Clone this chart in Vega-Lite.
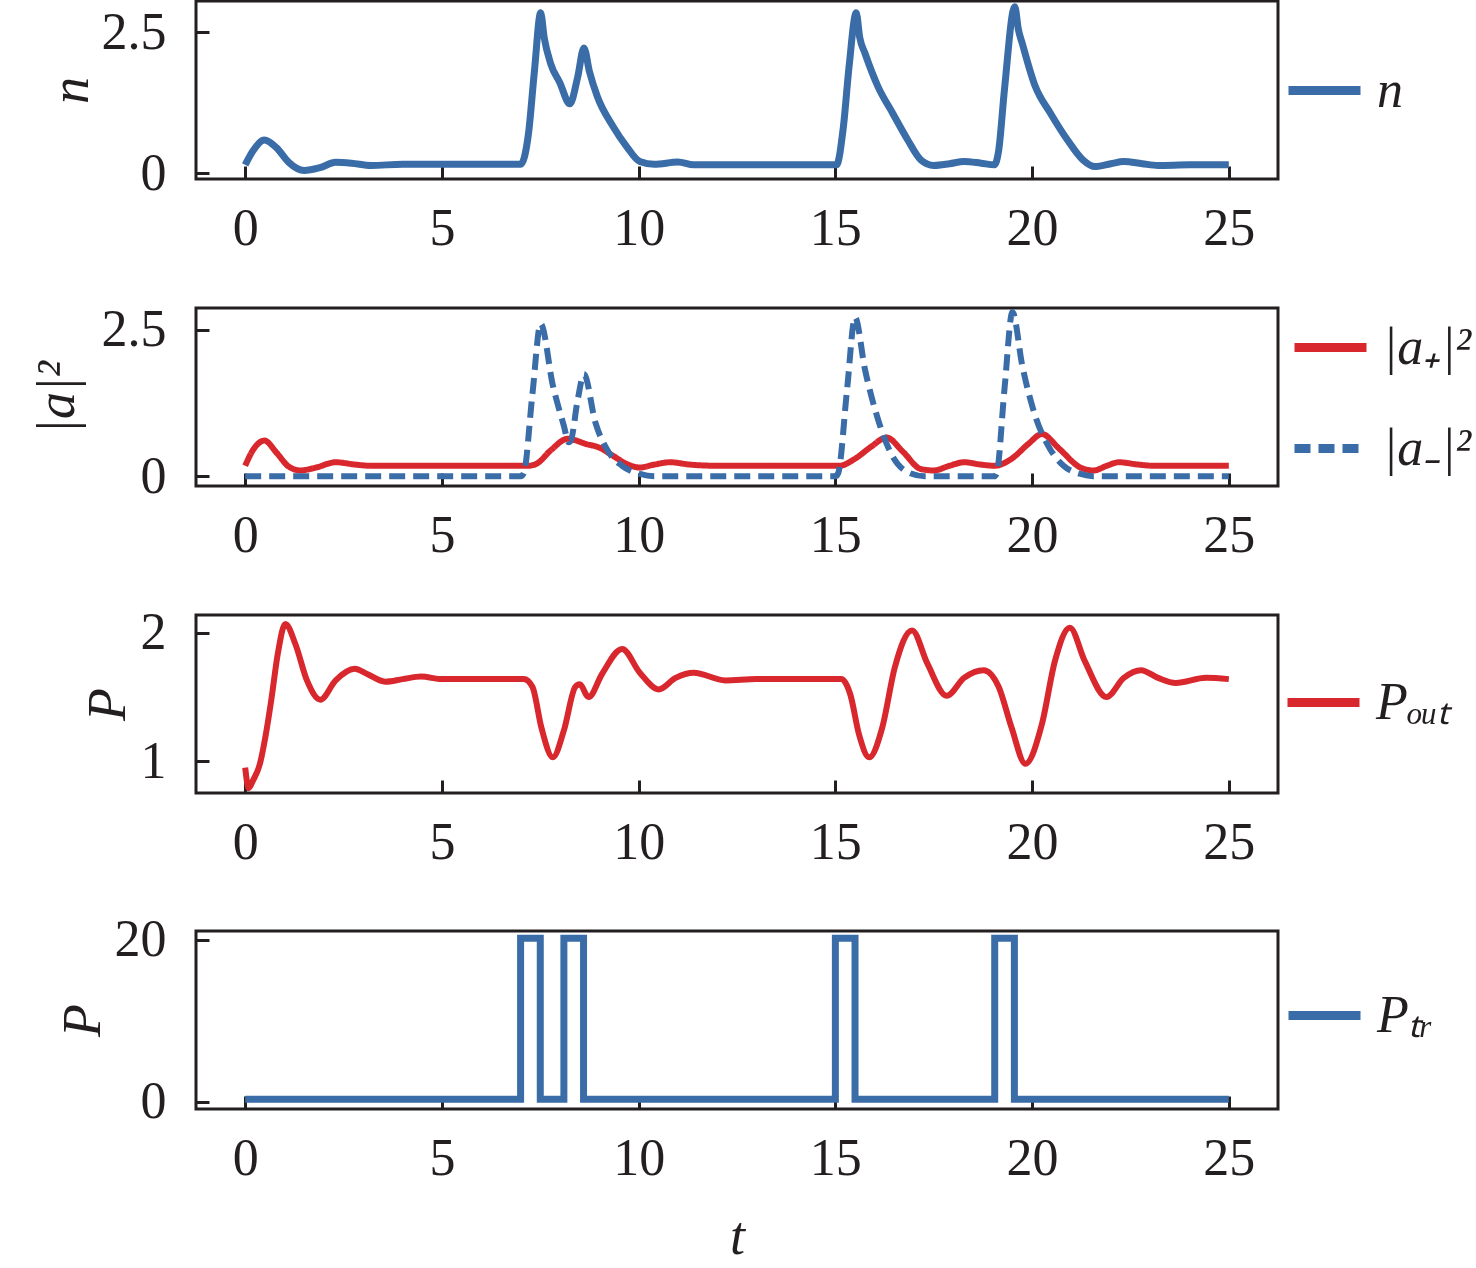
{
  "$schema": "https://vega.github.io/schema/vega-lite/v6.json",
  "background": "white",
  "padding": {"left": 28, "top": -9, "right": 0, "bottom": 0},
  "spacing": 42,
  "datasets": {
    "nData": [
      {"t": 0, "v": 0.15, "s": "n"}, {"t": 0.2, "v": 0.4, "s": "n"}, {"t": 0.49, "v": 0.59, "s": "n"},
      {"t": 0.8, "v": 0.45, "s": "n"}, {"t": 1.1, "v": 0.2, "s": "n"}, {"t": 1.5, "v": 0.05, "s": "n"},
      {"t": 1.9, "v": 0.1, "s": "n"}, {"t": 2.3, "v": 0.195, "s": "n"}, {"t": 2.7, "v": 0.18, "s": "n"},
      {"t": 3.2, "v": 0.14, "s": "n"}, {"t": 4.0, "v": 0.16, "s": "n"}, {"t": 5.0, "v": 0.16, "s": "n"},
      {"t": 6.0, "v": 0.16, "s": "n"}, {"t": 7.0, "v": 0.16, "s": "n"}, {"t": 7.2, "v": 0.7, "s": "n"},
      {"t": 7.35, "v": 1.8, "s": "n"}, {"t": 7.51, "v": 2.84, "s": "n"}, {"t": 7.6, "v": 2.4, "s": "n"},
      {"t": 7.76, "v": 1.95, "s": "n"}, {"t": 8.0, "v": 1.6, "s": "n"}, {"t": 8.25, "v": 1.23, "s": "n"},
      {"t": 8.45, "v": 1.7, "s": "n"}, {"t": 8.61, "v": 2.22, "s": "n"}, {"t": 8.75, "v": 1.8, "s": "n"},
      {"t": 8.95, "v": 1.36, "s": "n"}, {"t": 9.35, "v": 0.83, "s": "n"}, {"t": 9.7, "v": 0.47, "s": "n"},
      {"t": 10.03, "v": 0.21, "s": "n"}, {"t": 10.4, "v": 0.16, "s": "n"}, {"t": 11.0, "v": 0.2, "s": "n"},
      {"t": 11.4, "v": 0.15, "s": "n"}, {"t": 12, "v": 0.15, "s": "n"}, {"t": 13, "v": 0.15, "s": "n"},
      {"t": 14, "v": 0.15, "s": "n"}, {"t": 15.03, "v": 0.15, "s": "n"}, {"t": 15.2, "v": 0.8, "s": "n"},
      {"t": 15.35, "v": 1.9, "s": "n"}, {"t": 15.53, "v": 2.84, "s": "n"}, {"t": 15.62, "v": 2.4, "s": "n"},
      {"t": 15.75, "v": 2.13, "s": "n"}, {"t": 16.08, "v": 1.54, "s": "n"}, {"t": 16.46, "v": 1.06, "s": "n"},
      {"t": 16.84, "v": 0.59, "s": "n"}, {"t": 17.17, "v": 0.24, "s": "n"}, {"t": 17.5, "v": 0.14, "s": "n"},
      {"t": 17.9, "v": 0.17, "s": "n"}, {"t": 18.27, "v": 0.21, "s": "n"}, {"t": 18.7, "v": 0.18, "s": "n"},
      {"t": 19.04, "v": 0.15, "s": "n"}, {"t": 19.15, "v": 0.4, "s": "n"}, {"t": 19.3, "v": 1.5, "s": "n"},
      {"t": 19.56, "v": 2.95, "s": "n"}, {"t": 19.65, "v": 2.55, "s": "n"}, {"t": 19.75, "v": 2.3, "s": "n"},
      {"t": 20.08, "v": 1.54, "s": "n"}, {"t": 20.47, "v": 1.06, "s": "n"}, {"t": 20.9, "v": 0.59, "s": "n"},
      {"t": 21.29, "v": 0.24, "s": "n"}, {"t": 21.6, "v": 0.12, "s": "n"}, {"t": 22.0, "v": 0.17, "s": "n"},
      {"t": 22.33, "v": 0.21, "s": "n"}, {"t": 22.8, "v": 0.17, "s": "n"}, {"t": 23.2, "v": 0.14, "s": "n"},
      {"t": 24, "v": 0.15, "s": "n"}, {"t": 25, "v": 0.15, "s": "n"}
    ],
    "aData": [
      {"t": 0, "v": 0.18, "s": "|a₊|²"}, {"t": 0.2, "v": 0.45, "s": "|a₊|²"}, {"t": 0.49, "v": 0.61, "s": "|a₊|²"},
      {"t": 0.8, "v": 0.4, "s": "|a₊|²"}, {"t": 1.1, "v": 0.17, "s": "|a₊|²"}, {"t": 1.4, "v": 0.1, "s": "|a₊|²"},
      {"t": 1.8, "v": 0.15, "s": "|a₊|²"}, {"t": 2.3, "v": 0.24, "s": "|a₊|²"}, {"t": 2.8, "v": 0.2, "s": "|a₊|²"},
      {"t": 3.2, "v": 0.18, "s": "|a₊|²"}, {"t": 4, "v": 0.18, "s": "|a₊|²"}, {"t": 5, "v": 0.18, "s": "|a₊|²"},
      {"t": 6, "v": 0.18, "s": "|a₊|²"}, {"t": 7.2, "v": 0.18, "s": "|a₊|²"}, {"t": 7.42, "v": 0.22, "s": "|a₊|²"},
      {"t": 7.76, "v": 0.44, "s": "|a₊|²"}, {"t": 8.2, "v": 0.64, "s": "|a₊|²"}, {"t": 8.67, "v": 0.55, "s": "|a₊|²"},
      {"t": 9.0, "v": 0.49, "s": "|a₊|²"}, {"t": 9.35, "v": 0.35, "s": "|a₊|²"}, {"t": 9.7, "v": 0.21, "s": "|a₊|²"},
      {"t": 10.03, "v": 0.15, "s": "|a₊|²"}, {"t": 10.4, "v": 0.2, "s": "|a₊|²"}, {"t": 10.8, "v": 0.24, "s": "|a₊|²"},
      {"t": 11.3, "v": 0.2, "s": "|a₊|²"}, {"t": 12, "v": 0.18, "s": "|a₊|²"}, {"t": 13, "v": 0.18, "s": "|a₊|²"},
      {"t": 14, "v": 0.18, "s": "|a₊|²"}, {"t": 15.1, "v": 0.18, "s": "|a₊|²"}, {"t": 15.5, "v": 0.3, "s": "|a₊|²"},
      {"t": 15.9, "v": 0.5, "s": "|a₊|²"}, {"t": 16.3, "v": 0.66, "s": "|a₊|²"}, {"t": 16.73, "v": 0.41, "s": "|a₊|²"},
      {"t": 17.17, "v": 0.125, "s": "|a₊|²"}, {"t": 17.5, "v": 0.1, "s": "|a₊|²"}, {"t": 17.9, "v": 0.18, "s": "|a₊|²"},
      {"t": 18.27, "v": 0.24, "s": "|a₊|²"}, {"t": 18.7, "v": 0.2, "s": "|a₊|²"}, {"t": 19.04, "v": 0.18, "s": "|a₊|²"},
      {"t": 19.48, "v": 0.3, "s": "|a₊|²"}, {"t": 19.9, "v": 0.55, "s": "|a₊|²"}, {"t": 20.25, "v": 0.72, "s": "|a₊|²"},
      {"t": 20.69, "v": 0.47, "s": "|a₊|²"}, {"t": 21.23, "v": 0.15, "s": "|a₊|²"}, {"t": 21.56, "v": 0.1, "s": "|a₊|²"},
      {"t": 21.9, "v": 0.18, "s": "|a₊|²"}, {"t": 22.2, "v": 0.24, "s": "|a₊|²"}, {"t": 22.7, "v": 0.2, "s": "|a₊|²"},
      {"t": 23.1, "v": 0.18, "s": "|a₊|²"}, {"t": 24, "v": 0.18, "s": "|a₊|²"}, {"t": 25, "v": 0.18, "s": "|a₊|²"},
      {"t": 0, "v": 0, "s": "|a₋|²"}, {"t": 7.0, "v": 0, "s": "|a₋|²"}, {"t": 7.08, "v": 0.05, "s": "|a₋|²"},
      {"t": 7.3, "v": 1.4, "s": "|a₋|²"}, {"t": 7.51, "v": 2.6, "s": "|a₋|²"}, {"t": 7.82, "v": 1.55, "s": "|a₋|²"},
      {"t": 8.1, "v": 0.86, "s": "|a₋|²"}, {"t": 8.22, "v": 0.58, "s": "|a₋|²"}, {"t": 8.27, "v": 0.6, "s": "|a₋|²"},
      {"t": 8.45, "v": 1.3, "s": "|a₋|²"}, {"t": 8.61, "v": 1.74, "s": "|a₋|²"}, {"t": 8.9, "v": 0.92, "s": "|a₋|²"},
      {"t": 9.24, "v": 0.41, "s": "|a₋|²"}, {"t": 9.58, "v": 0.18, "s": "|a₋|²"}, {"t": 10.03, "v": 0.04, "s": "|a₋|²"},
      {"t": 10.4, "v": 0, "s": "|a₋|²"}, {"t": 15.0, "v": 0, "s": "|a₋|²"}, {"t": 15.07, "v": 0.05, "s": "|a₋|²"},
      {"t": 15.3, "v": 1.5, "s": "|a₋|²"}, {"t": 15.5, "v": 2.71, "s": "|a₋|²"}, {"t": 15.75, "v": 1.83, "s": "|a₋|²"},
      {"t": 16.08, "v": 0.98, "s": "|a₋|²"}, {"t": 16.4, "v": 0.41, "s": "|a₋|²"}, {"t": 16.84, "v": 0.07, "s": "|a₋|²"},
      {"t": 17.28, "v": 0, "s": "|a₋|²"}, {"t": 19.04, "v": 0, "s": "|a₋|²"}, {"t": 19.1, "v": 0.05, "s": "|a₋|²"},
      {"t": 19.3, "v": 1.5, "s": "|a₋|²"}, {"t": 19.5, "v": 2.8, "s": "|a₋|²"}, {"t": 19.75, "v": 1.89, "s": "|a₋|²"},
      {"t": 20.08, "v": 1.03, "s": "|a₋|²"}, {"t": 20.41, "v": 0.52, "s": "|a₋|²"}, {"t": 20.8, "v": 0.18, "s": "|a₋|²"},
      {"t": 21.23, "v": 0.04, "s": "|a₋|²"}, {"t": 21.56, "v": 0, "s": "|a₋|²"}, {"t": 25, "v": 0, "s": "|a₋|²"}
    ],
    "pOutData": [
      {"t": 0, "v": 0.95, "s": "Pₒᵤₜ"}, {"t": 0.09, "v": 0.79, "s": "Pₒᵤₜ"}, {"t": 0.2, "v": 0.85, "s": "Pₒᵤₜ"},
      {"t": 0.375, "v": 0.98, "s": "Pₒᵤₜ"}, {"t": 0.52, "v": 1.2, "s": "Pₒᵤₜ"}, {"t": 0.66, "v": 1.47, "s": "Pₒᵤₜ"},
      {"t": 0.83, "v": 1.84, "s": "Pₒᵤₜ"}, {"t": 1.02, "v": 2.07, "s": "Pₒᵤₜ"}, {"t": 1.28, "v": 1.91, "s": "Pₒᵤₜ"},
      {"t": 1.57, "v": 1.63, "s": "Pₒᵤₜ"}, {"t": 1.91, "v": 1.48, "s": "Pₒᵤₜ"}, {"t": 2.3, "v": 1.63, "s": "Pₒᵤₜ"},
      {"t": 2.78, "v": 1.72, "s": "Pₒᵤₜ"}, {"t": 3.1, "v": 1.68, "s": "Pₒᵤₜ"}, {"t": 3.56, "v": 1.62, "s": "Pₒᵤₜ"},
      {"t": 4.0, "v": 1.64, "s": "Pₒᵤₜ"}, {"t": 4.47, "v": 1.66, "s": "Pₒᵤₜ"}, {"t": 5.0, "v": 1.64, "s": "Pₒᵤₜ"},
      {"t": 6, "v": 1.64, "s": "Pₒᵤₜ"}, {"t": 7.08, "v": 1.64, "s": "Pₒᵤₜ"}, {"t": 7.3, "v": 1.58, "s": "Pₒᵤₜ"},
      {"t": 7.53, "v": 1.26, "s": "Pₒᵤₜ"}, {"t": 7.82, "v": 1.03, "s": "Pₒᵤₜ"}, {"t": 8.1, "v": 1.24, "s": "Pₒᵤₜ"},
      {"t": 8.39, "v": 1.58, "s": "Pₒᵤₜ"}, {"t": 8.5, "v": 1.6, "s": "Pₒᵤₜ"}, {"t": 8.73, "v": 1.5, "s": "Pₒᵤₜ"},
      {"t": 9.07, "v": 1.68, "s": "Pₒᵤₜ"}, {"t": 9.58, "v": 1.875, "s": "Pₒᵤₜ"}, {"t": 10.03, "v": 1.69, "s": "Pₒᵤₜ"},
      {"t": 10.51, "v": 1.56, "s": "Pₒᵤₜ"}, {"t": 10.94, "v": 1.65, "s": "Pₒᵤₜ"}, {"t": 11.4, "v": 1.69, "s": "Pₒᵤₜ"},
      {"t": 12.2, "v": 1.63, "s": "Pₒᵤₜ"}, {"t": 13, "v": 1.64, "s": "Pₒᵤₜ"}, {"t": 14, "v": 1.64, "s": "Pₒᵤₜ"},
      {"t": 15.15, "v": 1.64, "s": "Pₒᵤₜ"}, {"t": 15.38, "v": 1.52, "s": "Pₒᵤₜ"}, {"t": 15.6, "v": 1.21, "s": "Pₒᵤₜ"},
      {"t": 15.86, "v": 1.03, "s": "Pₒᵤₜ"}, {"t": 16.19, "v": 1.26, "s": "Pₒᵤₜ"}, {"t": 16.51, "v": 1.73, "s": "Pₒᵤₜ"},
      {"t": 16.95, "v": 2.02, "s": "Pₒᵤₜ"}, {"t": 17.34, "v": 1.76, "s": "Pₒᵤₜ"}, {"t": 17.83, "v": 1.51, "s": "Pₒᵤₜ"},
      {"t": 18.27, "v": 1.65, "s": "Pₒᵤₜ"}, {"t": 18.77, "v": 1.71, "s": "Pₒᵤₜ"}, {"t": 19.15, "v": 1.58, "s": "Pₒᵤₜ"},
      {"t": 19.48, "v": 1.26, "s": "Pₒᵤₜ"}, {"t": 19.83, "v": 0.98, "s": "Pₒᵤₜ"}, {"t": 20.25, "v": 1.29, "s": "Pₒᵤₜ"},
      {"t": 20.58, "v": 1.78, "s": "Pₒᵤₜ"}, {"t": 20.96, "v": 2.04, "s": "Pₒᵤₜ"}, {"t": 21.34, "v": 1.78, "s": "Pₒᵤₜ"},
      {"t": 21.89, "v": 1.5, "s": "Pₒᵤₜ"}, {"t": 22.33, "v": 1.65, "s": "Pₒᵤₜ"}, {"t": 22.77, "v": 1.71, "s": "Pₒᵤₜ"},
      {"t": 23.2, "v": 1.65, "s": "Pₒᵤₜ"}, {"t": 23.65, "v": 1.61, "s": "Pₒᵤₜ"}, {"t": 24.42, "v": 1.65, "s": "Pₒᵤₜ"},
      {"t": 25, "v": 1.64, "s": "Pₒᵤₜ"}
    ],
    "pTrData": [
      {"t": 0, "v": 0.3, "s": "Pₜᵣ"}, {"t": 7.0, "v": 20.2, "s": "Pₜᵣ"}, {"t": 7.5, "v": 0.3, "s": "Pₜᵣ"},
      {"t": 8.1, "v": 20.2, "s": "Pₜᵣ"}, {"t": 8.6, "v": 0.3, "s": "Pₜᵣ"}, {"t": 15.0, "v": 20.2, "s": "Pₜᵣ"},
      {"t": 15.5, "v": 0.3, "s": "Pₜᵣ"}, {"t": 19.05, "v": 20.2, "s": "Pₜᵣ"}, {"t": 19.55, "v": 0.3, "s": "Pₜᵣ"},
      {"t": 25, "v": 0.3, "s": "Pₜᵣ"}
    ]
  },
  "resolve": {
    "scale": {"color": "independent", "strokeDash": "independent"},
    "legend": {"color": "independent", "strokeDash": "independent"}
  },
  "vconcat": [
    {
      "width": 1082,
      "height": 178,
      "data": {"name": "nData"},
      "mark": {"type": "line", "strokeWidth": 7, "interpolate": "monotone"},
      "encoding": {
        "x": {"field": "t", "type": "quantitative", "scale": {"domain": [-1.25, 26.25], "nice": false, "zero": false},
              "axis": {"values": [0, 5, 10, 15, 20, 25], "title": null}},
        "y": {"field": "v", "type": "quantitative", "scale": {"domain": [-0.1, 3.05], "nice": false, "zero": false},
              "axis": {"values": [0, 2.5], "format": ".1~f", "title": "n", "titlePadding": 3}},
        "color": {"field": "s", "type": "nominal", "scale": {"range": ["#3a6ca8"]},
                  "legend": {"title": null, "orient": "none", "legendX": 1088, "legendY": 49}}
      }
    },
    {
      "width": 1082,
      "height": 178,
      "data": {"name": "aData"},
      "mark": {"type": "line", "strokeWidth": 6, "interpolate": "monotone"},
      "encoding": {
        "x": {"field": "t", "type": "quantitative", "scale": {"domain": [-1.25, 26.25], "nice": false, "zero": false},
              "axis": {"values": [0, 5, 10, 15, 20, 25], "title": null}},
        "y": {"field": "v", "type": "quantitative", "scale": {"domain": [-0.165, 2.87], "nice": false, "zero": false},
              "axis": {"values": [0, 2.5], "format": ".1~f", "title": "|a|²", "titlePadding": 17}},
        "color": {"field": "s", "type": "nominal",
                  "scale": {"domain": ["|a₊|²", "|a₋|²"], "range": ["#d9272e", "#3a6ca8"]},
                  "legend": {"title": null, "orient": "none", "legendX": 1094, "legendY": -1, "rowPadding": 34}},
        "strokeDash": {"field": "s", "type": "nominal",
                  "scale": {"domain": ["|a₊|²", "|a₋|²"], "range": [[1, 0], [16, 8]]},
                  "legend": {"title": null, "orient": "none", "legendX": 1094, "legendY": -1, "rowPadding": 34}}
      }
    },
    {
      "width": 1082,
      "height": 178,
      "data": {"name": "pOutData"},
      "mark": {"type": "line", "strokeWidth": 6, "interpolate": "monotone"},
      "encoding": {
        "x": {"field": "t", "type": "quantitative", "scale": {"domain": [-1.25, 26.25], "nice": false, "zero": false},
              "axis": {"values": [0, 5, 10, 15, 20, 25], "title": null}},
        "y": {"field": "v", "type": "quantitative", "scale": {"domain": [0.752, 2.14], "nice": false, "zero": false},
              "axis": {"values": [1, 2], "format": "d", "title": "P", "titlePadding": 5}},
        "color": {"field": "s", "type": "nominal", "scale": {"range": ["#d9272e"]},
                  "legend": {"title": null, "orient": "none", "legendX": 1087, "legendY": 47}}
      }
    },
    {
      "width": 1082,
      "height": 178,
      "data": {"name": "pTrData"},
      "mark": {"type": "line", "strokeWidth": 7, "interpolate": "step-after"},
      "encoding": {
        "x": {"field": "t", "type": "quantitative", "scale": {"domain": [-1.25, 26.25], "nice": false, "zero": false},
              "axis": {"values": [0, 5, 10, 15, 20, 25], "title": "t", "titlePadding": 26}},
        "y": {"field": "v", "type": "quantitative", "scale": {"domain": [-0.9, 21.1], "nice": false, "zero": false},
              "axis": {"values": [0, 20], "format": "d", "title": "P", "titlePadding": 4}},
        "color": {"field": "s", "type": "nominal", "scale": {"range": ["#3a6ca8"]},
                  "legend": {"title": null, "orient": "none", "legendX": 1088, "legendY": 44}}
      }
    }
  ],
  "config": {
    "font": "Liberation Serif",
    "view": {"stroke": "#231f20", "strokeWidth": 3},
    "axis": {
      "domain": false, "grid": false,
      "tickColor": "#231f20", "tickWidth": 3, "tickSize": -13,
      "labelFont": "Liberation Serif", "labelFontSize": 52, "labelColor": "#231f20",
      "labelOverlap": false, "labelFlush": false,
      "titleFont": "Liberation Serif", "titleFontSize": 54, "titleFontStyle": "italic",
      "titleFontWeight": "normal", "titleColor": "#231f20"
    },
    "axisX": {"labelPadding": 37},
    "axisY": {"labelPadding": 43, "titlePadding": 10},
    "legend": {
      "labelFont": "Liberation Serif", "labelFontSize": 52, "labelFontStyle": "italic",
      "labelColor": "#231f20", "labelLimit": 400, "symbolType": "stroke", "symbolSize": 5184,
      "symbolStrokeWidth": 9, "labelOffset": 12, "padding": 0, "rowPadding": 48
    }
  }
}
